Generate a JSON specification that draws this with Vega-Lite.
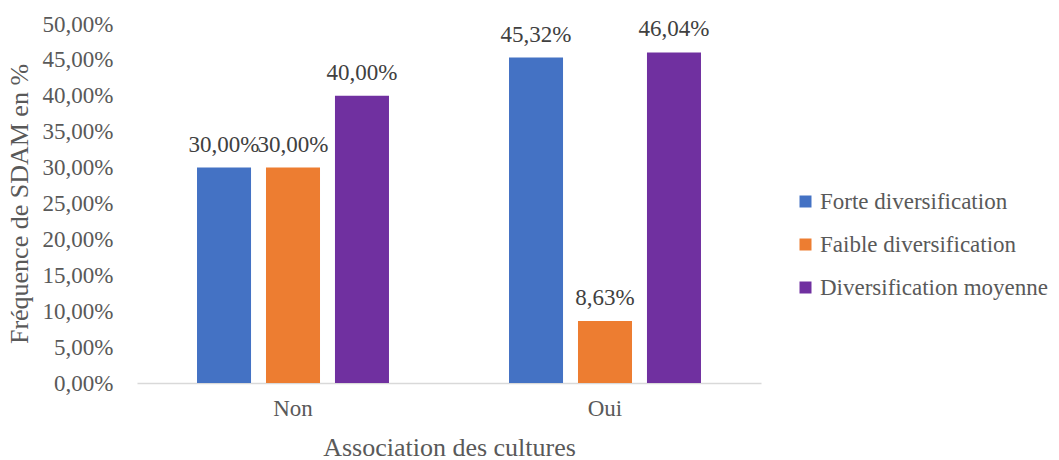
{
  "$schema": "https://vega.github.io/schema/vega-lite/v6.json",
  "autosize": "none",
  "width": 624,
  "height": 359,
  "padding": {"left": 137, "top": 24, "right": 298, "bottom": 77},
  "background": "white",
  "config": {
    "locale": {"number": {"decimal": ",", "thousands": " ", "grouping": [3], "currency": ["", " €"]}},
    "font": "Liberation Serif",
    "view": {"stroke": null}
  },
  "data": {
    "values": [
      {"assoc": "Non", "serie": "Forte diversification", "value": 0.30},
      {"assoc": "Non", "serie": "Faible diversification", "value": 0.30},
      {"assoc": "Non", "serie": "Diversification moyenne", "value": 0.40},
      {"assoc": "Oui", "serie": "Forte diversification", "value": 0.4532},
      {"assoc": "Oui", "serie": "Faible diversification", "value": 0.0863},
      {"assoc": "Oui", "serie": "Diversification moyenne", "value": 0.4604}
    ]
  },
  "encoding": {
    "x": {
      "field": "assoc", "type": "nominal",
      "scale": {"paddingInner": 0, "paddingOuter": 0},
      "axis": {
        "title": "Association des cultures", "titleFontSize": 26, "titleFontWeight": "normal", "titleColor": "#595959", "titlePadding": 14,
        "labelAngle": 0, "labelFontSize": 23, "labelColor": "#595959", "labelPadding": 14,
        "ticks": false, "domainColor": "#d9d9d9", "domainWidth": 1.5
      }
    },
    "xOffset": {
      "field": "serie", "type": "nominal",
      "sort": ["Forte diversification", "Faible diversification", "Diversification moyenne"],
      "scale": {"paddingInner": 0.217, "paddingOuter": 0.87}
    },
    "y": {
      "field": "value", "type": "quantitative",
      "scale": {"domain": [0, 0.5], "nice": false},
      "axis": {
        "title": "Fréquence de SDAM en %", "titleFontSize": 26, "titleFontWeight": "normal", "titleColor": "#595959", "titlePadding": 10,
        "values": [0, 0.05, 0.1, 0.15, 0.2, 0.25, 0.3, 0.35, 0.4, 0.45, 0.5],
        "format": ".2%", "labelFontSize": 23, "labelColor": "#595959", "labelPadding": 24,
        "ticks": false, "domain": false, "grid": false
      }
    }
  },
  "layer": [
    {
      "mark": {"type": "bar"},
      "encoding": {
        "color": {
          "field": "serie", "type": "nominal",
          "sort": ["Forte diversification", "Faible diversification", "Diversification moyenne"],
          "scale": {"domain": ["Forte diversification", "Faible diversification", "Diversification moyenne"], "range": ["#4472C4", "#ED7D31", "#7030A0"]},
          "legend": {
            "title": null, "orient": "none", "legendX": 657, "legendY": 166,
            "symbolType": "square", "symbolSize": 144, "symbolStrokeWidth": 0,
            "labelFontSize": 23, "labelColor": "#595959", "labelOffset": 3, "rowPadding": 19, "labelLimit": 300
          }
        }
      }
    },
    {
      "mark": {"type": "text", "baseline": "alphabetic", "dy": -16, "fontSize": 23, "color": "#404040"},
      "encoding": {
        "text": {"field": "value", "type": "quantitative", "format": ".2%"}
      }
    }
  ]
}
